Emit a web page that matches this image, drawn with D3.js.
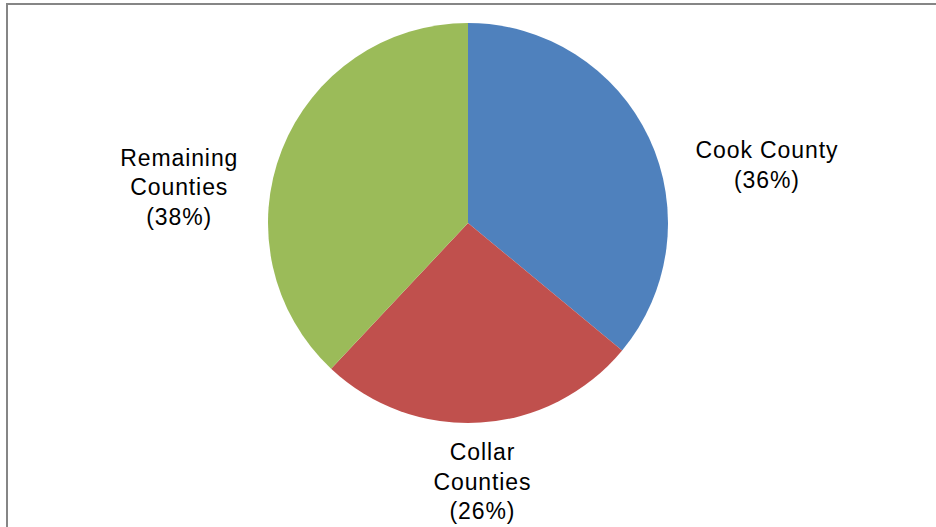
<!DOCTYPE html>
<html>
<head>
<meta charset="utf-8">
<script src="https://cdn.jsdelivr.net/npm/d3@7"></script>
<style>
  html, body { margin: 0; padding: 0; background: #fff; }
  svg { display: block; }
  .lbl { font-family: "Liberation Sans", Arial, sans-serif; font-size: 23px; fill: #000; letter-spacing: 0.9px; }
</style>
</head>
<body>
<div id="chart"></div>
<script>
// data
const regions = ['Cook County', 'Collar Counties', 'Remaining Counties'];
const shares = [36, 26, 38];
const colors = ['#4F81BD', '#C0504D', '#9BBB59'];
// label text split into lines, as in the original
const labelLines = [['Cook County'], ['Collar', 'Counties'], ['Remaining', 'Counties']];

const W = 936, H = 527;
const config = {
    cx: 468,
    cy: 223,
    r: 200,
    lineH: 29.5,
    // label centres: polar (degrees clockwise from 12 o'clock, distance from pie centre)
    labelPolar: [[79, 304.5], [176.8, 259], [277.1, 291]]
};

const svg = d3.select('#chart').append('svg')
    .attr('width', W)
    .attr('height', H);

// chart frame (right and bottom edges fall outside the picture)
svg.append('rect')
    .attr('x', 7).attr('y', 4)
    .attr('width', W + 20).attr('height', H + 10)
    .attr('fill', 'none')
    .attr('stroke', '#868686')
    .attr('stroke-width', 2);

const g = svg.append('g')
    .attr('transform', `translate(${config.cx},${config.cy})`);

const pie = d3.pie().sort(null).value(d => d)(shares);
const arc = d3.arc().innerRadius(0).outerRadius(config.r);

g.selectAll('path.slice')
    .data(pie)
    .enter().append('path')
    .attr('class', 'slice')
    .attr('d', arc)
    .attr('fill', (d, i) => colors[i]);

// labels
const lbl = g.selectAll('text.lbl')
    .data(pie)
    .enter().append('text')
    .attr('class', 'lbl')
    .attr('text-anchor', 'middle')
    .attr('transform', (d, i) => {
        const [a, dist] = config.labelPolar[i];
        const rad = a * Math.PI / 180;
        return `translate(${dist * Math.sin(rad)},${-dist * Math.cos(rad)})`;
    });

lbl.each(function(d, i) {
    const lines = labelLines[i].concat(['(' + shares[i] + '%)']);
    const t = d3.select(this);
    const offset = -(lines.length - 1) / 2 * config.lineH;
    lines.forEach((s, k) => {
        t.append('tspan')
            .attr('x', 0)
            .attr('y', offset + k * config.lineH)
            .attr('dy', '0.35em')
            .text(s);
    });
});
</script>
</body>
</html>
